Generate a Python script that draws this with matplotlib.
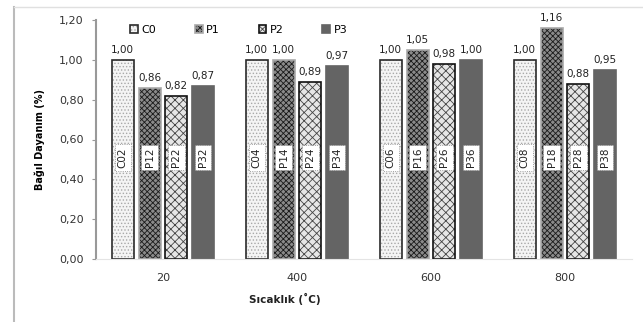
import numpy as np
import matplotlib.pyplot as plt
from matplotlib.lines import Line2D

# data
temps = ['20', '400', '600', '800']
series = ['C0', 'P1', 'P2', 'P3']
c0 = [1.00, 1.00, 1.00, 1.00]
p1 = [0.86, 1.00, 1.05, 1.16]
p2 = [0.82, 0.89, 0.98, 0.88]
p3 = [0.87, 0.97, 1.00, 0.95]
codes = [['C02', 'C04', 'C06', 'C08'],
         ['P12', 'P14', 'P16', 'P18'],
         ['P22', 'P24', 'P26', 'P28'],
         ['P32', 'P34', 'P36', 'P38']]

values = [c0, p1, p2, p3]
faces = ['#f4f4f4', '#8a8a8a', '#e6e6e6', '#646464']
hatches = ['.....', 'xxxxxx', 'xxxx', None]
hatchcol = ['#a8a8a8', '#1a1a1a', '#444444', '#646464']
edges = ['#2a2a2a', '#aaaaaa', '#111111', '#646464']

plt.rcParams['font.family'] = 'DejaVu Sans'
plt.rcParams['hatch.linewidth'] = 0.6

fig = plt.figure(figsize=(6.43, 3.22), dpi=100)
ax = fig.add_axes([96 / 643, 1 - 259 / 322, 536 / 643, 239 / 322])

x = np.arange(len(temps))
w = 0.164
step = 0.2
for i, vals in enumerate(values):
    pos = x + (i - 1.5) * step
    bars = ax.bar(pos, vals, w, color=faces[i], edgecolor=edges[i],
                  linewidth=1.2, hatch=hatches[i], label=series[i], zorder=2)
    for b in bars:
        b._hatch_color = plt.matplotlib.colors.to_rgba(hatchcol[i])
    for j, v in enumerate(vals):
        ax.text(pos[j], v + 0.025, ('%.2f' % v).replace('.', ','),
                ha='center', va='bottom', fontsize=7.5, color='#222222')
        ax.text(pos[j], 0.51, codes[i][j], rotation=90, ha='center',
                va='center', fontsize=7.5, color='#222222', zorder=4,
                bbox=dict(boxstyle='square,pad=0.3', fc='white',
                          ec='#888888', lw=0.6, ls=':'))

ax.set_xlim(-0.5, 3.5)
ax.set_ylim(0, 1.2)
ax.set_yticks(np.arange(0, 1.21, 0.2))
ax.set_yticklabels([('%.2f' % t).replace('.', ',') for t in np.arange(0, 1.21, 0.2)],
                   fontsize=8, color='#333333')
ax.set_xticks(x)
ax.set_xticklabels(temps, fontsize=8, color='#333333')
ax.tick_params(axis='x', length=0, pad=10)
ax.tick_params(axis='y', length=3, color='#999999', pad=6)
for s in ['top', 'right']:
    ax.spines[s].set_visible(False)
ax.spines['left'].set_color('#999999')
ax.spines['left'].set_linewidth(1.5)
ax.spines['bottom'].set_color('#e4e4e4')

ax.set_ylabel('Bağıl Dayanım (%)', fontsize=7, fontweight='bold', labelpad=10)
fig.text(285 / 643, 1 - 299 / 322, 'Sıcaklık (˚C)', ha='center', va='center',
         fontsize=7.5, fontweight='bold', color='#222222')

ax.legend(ncol=4, loc='upper left', bbox_to_anchor=(0.045, 1.02), frameon=False,
          fontsize=8, handlelength=0.7, handleheight=0.7, columnspacing=3.5,
          handletextpad=0.3)

# outer chart border (left and top only visible)
fig.add_artist(Line2D([14 / 643, 14 / 643], [0, 1 - 7 / 322], color='#bbbbbb', lw=1.5))
fig.add_artist(Line2D([14 / 643, 1], [1 - 7 / 322, 1 - 7 / 322], color='#e0e0e0', lw=1))

fig.savefig('out.png', dpi=100)
